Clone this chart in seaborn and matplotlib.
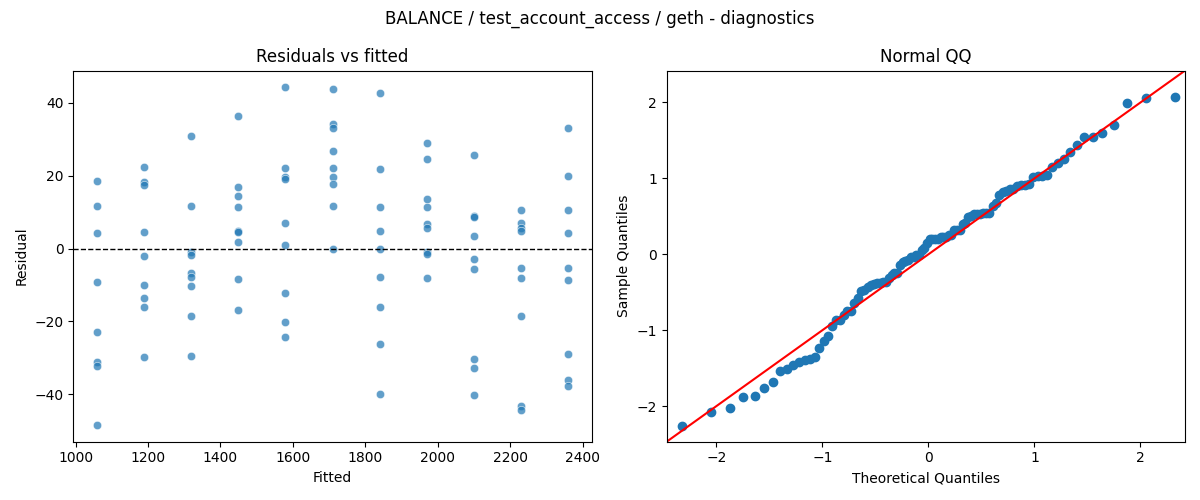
import numpy as np
import pandas as pd
import matplotlib
matplotlib.use("Agg")
import matplotlib.pyplot as plt
import seaborn as sns
from statistics import NormalDist

# fitted value of each group and the residuals
fitted_levels = [1059, 1189, 1319, 1449, 1579, 1710, 1840, 1970, 2100, 2230, 2360]

res_1059 = [18.5, 11.7, 4.2, -9.2, -23.0, -31.2, -32.2, -48.4]
res_1189 = [22.3, 18.3, 17.5, 4.4, -2.1, -10.1, -13.7, -16.1, -29.9]
res_1319 = [30.8, 11.7, -0.9, -1.9, -6.8, -7.7, -10.4, -18.6, -29.6]
res_1449 = [36.5, 16.8, 14.3, 11.3, 4.8, 4.4, 1.7, -8.5, -17.0]
res_1579 = [44.2, 22.0, 19.5, 19.2, 6.9, 1.1, -12.2, -20.3, -24.4]
res_1710 = [43.9, 34.2, 33.0, 26.9, 22.1, 19.5, 17.8, 11.7, -0.2]
res_1840 = [42.6, 21.7, 11.3, 4.9, -0.2, -7.9, -16.1, -26.3, -40.0]
res_1970 = [28.9, 24.5, 13.5, 11.3, 6.7, 5.5, -0.9, -1.6, -8.2]
res_2100 = [25.6, 8.9, 8.6, 3.3, -3.0, -5.7, -30.3, -32.9, -40.2]
res_2230 = [10.5, 6.9, 5.5, 4.9, -5.4, -8.2, -18.6, -43.2, -44.3]
res_2360 = [33.0, 19.8, 10.7, 4.2, -5.4, -8.7, -28.9, -36.1, -37.7]

groups = [res_1059, res_1189, res_1319, res_1449, res_1579, res_1710,
          res_1840, res_1970, res_2100, res_2230, res_2360]

df = pd.DataFrame({
    "fitted": [f for f, g in zip(fitted_levels, groups) for _ in g],
    "resid": [r for g in groups for r in g],
})

# normal QQ of standardized residuals (OLS residuals have mean 0)
resid = df["resid"].to_numpy()
n = len(resid)
probs = np.arange(1, n + 1) / (n + 1)
theo = np.array([NormalDist().inv_cdf(p) for p in probs])
sample = np.sort(resid / resid.std())

fig, (ax1, ax2) = plt.subplots(1, 2, figsize=(12, 5))

# ============================
# Residuals vs fitted
# ============================
sns.scatterplot(data=df, x="fitted", y="resid", ax=ax1, alpha=0.7, color="#1f77b4")
ax1.axhline(0, color="black", linestyle="--", linewidth=1)
ax1.set_title("Residuals vs fitted")
ax1.set_xlabel("Fitted")
ax1.set_ylabel("Residual")

# ============================
# Normal QQ
# ============================
sns.scatterplot(x=theo, y=sample, ax=ax2, s=36, color="#1f77b4",
                edgecolor="#1f77b4", linewidth=1)
lim = (-2.47, 2.42)
ax2.plot(lim, lim, color="red")
ax2.set_xlim(lim)
ax2.set_ylim(lim)
ax2.set_title("Normal QQ")
ax2.set_xlabel("Theoretical Quantiles")
ax2.set_ylabel("Sample Quantiles")

fig.suptitle("BALANCE / test_account_access / geth - diagnostics")
plt.tight_layout()
plt.savefig("out.png", dpi=100)
